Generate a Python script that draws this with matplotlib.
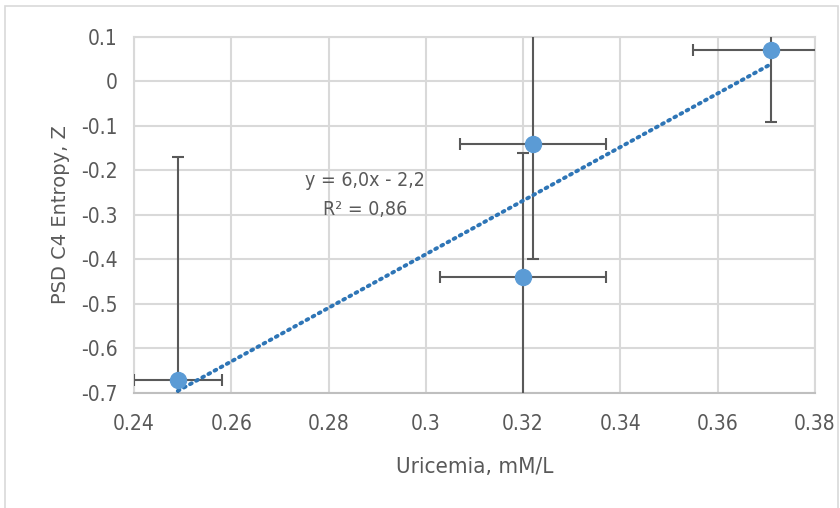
import numpy as np
import matplotlib
matplotlib.use("Agg")
import matplotlib.pyplot as plt
from matplotlib.ticker import FuncFormatter
from matplotlib.patches import Rectangle

plt.rcParams['font.family'] = ['Liberation Sans Narrow', 'DejaVu Sans']
plt.rcParams['font.stretch'] = 'condensed'
plt.rcParams['axes.unicode_minus'] = False

# uric acid vs entropy z-score
uricemia = [0.249, 0.322, 0.320, 0.371]
entropy_z = [-0.67, -0.14, -0.44, 0.07]
x_err = [0.009, 0.015, 0.017, 0.016]
y_err = [0.50, 0.26, 0.28, 0.16]

x_ticks = [0.24, 0.26, 0.28, 0.30, 0.32, 0.34, 0.36, 0.38]
y_ticks = [0.1, 0.0, -0.1, -0.2, -0.3, -0.4, -0.5, -0.6, -0.7]

grey = '#595959'

fig = plt.figure(figsize=(8.4, 5.08), dpi=100)
ax = fig.add_axes([0.1595, 0.2264, 0.8105, 0.7008])

# chart frame
fig.patches.append(Rectangle((0.006, -0.01), 0.992, 0.998, transform=fig.transFigure,
                             fill=False, edgecolor='#d9d9d9', lw=1.2))

ax.errorbar(uricemia, entropy_z, xerr=x_err, yerr=y_err, fmt='none',
            ecolor=grey, elinewidth=1.5, capsize=4, capthick=1.5, zorder=3)

# linear trend
slope, icpt = np.polyfit(uricemia, entropy_z, 1)
pred = slope * np.array(uricemia) + icpt
ss_res = np.sum((np.array(entropy_z) - pred) ** 2)
ss_tot = np.sum((np.array(entropy_z) - np.mean(entropy_z)) ** 2)
r2 = 1 - ss_res / ss_tot
xs = np.array([min(uricemia), max(uricemia)])
ax.plot(xs, slope * xs + icpt, color='#2e75b6', lw=2.8, linestyle=(0, (0.5, 1.3)),
        dash_capstyle='round', zorder=4)

ax.plot(uricemia, entropy_z, 'o', color='#5b9bd5', markersize=11.5, zorder=5)

sign = '-' if icpt < 0 else '+'
eq = f"y = {slope:.1f}x {sign} {abs(icpt):.1f}".replace('.', ',')
ax.text(0.2875, -0.223, eq, ha='center', va='center', fontsize=14, color=grey)
ax.text(0.2875, -0.287, f"R² = {r2:.2f}".replace('.', ','), ha='center', va='center',
        fontsize=14, color=grey)

ax.set_xlim(0.24, 0.38)
ax.set_ylim(-0.7, 0.1)
ax.set_xticks(x_ticks)
ax.set_yticks(y_ticks)
fmt = FuncFormatter(lambda v, p: f"{round(v, 2):g}")
ax.xaxis.set_major_formatter(fmt)
ax.yaxis.set_major_formatter(fmt)
ax.tick_params(length=0, labelsize=15, labelcolor=grey)
ax.tick_params(axis='x', pad=15)
ax.tick_params(axis='y', pad=12)
ax.grid(True, color='#d9d9d9', lw=1.5)
ax.set_axisbelow(True)
for s in ax.spines.values():
    s.set_color('#d9d9d9')
    s.set_linewidth(1.5)
ax.spines['bottom'].set_color('#bfbfbf')

ax.set_xlabel('Uricemia, mM/L', fontsize=16, color=grey, labelpad=17)
ax.set_ylabel('PSD C4 Entropy, Z', fontsize=14, color=grey, labelpad=8,
              family='DejaVu Sans', stretch='normal')

fig.savefig('out.png', dpi=100)
